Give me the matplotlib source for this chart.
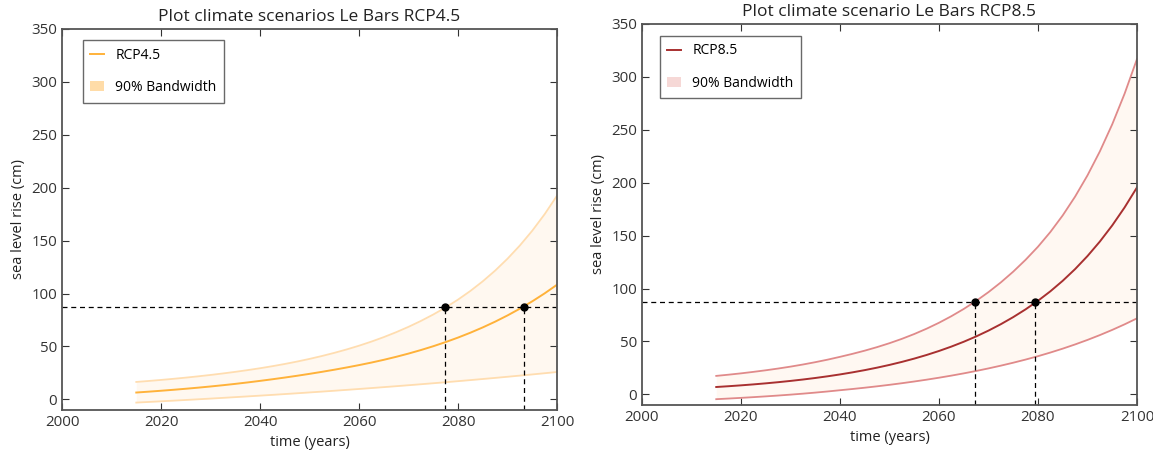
import numpy as np
import matplotlib
matplotlib.use("Agg")
import matplotlib.pyplot as plt
from matplotlib.patches import Patch

plt.rcParams['font.family'] = ['Open Sans', 'DejaVu Sans']

years = np.arange(2015, 2100.1, 2.5)

# RCP4.5 sea level rise (cm)
rcp45_mid = [6.5, 7.32, 8.18, 9.09, 10.07, 11.11, 12.22, 13.41, 14.68, 16.05,
             17.51, 19.04, 20.65, 22.35, 24.15, 26.05, 28.05, 30.17, 32.41, 34.81,
             37.41, 40.24, 43.31, 46.64, 50.25, 54.17, 58.42, 63.03, 68.03, 73.46,
             79.35, 85.74, 92.67, 100.19, 108.35]
rcp45_high = [16.5, 17.42, 18.4, 19.45, 20.58, 21.8, 23.11, 24.52, 26.04, 27.68,
              29.45, 31.38, 33.48, 35.77, 38.27, 41.0, 43.97, 47.21, 50.74, 54.61,
              58.85, 63.49, 68.57, 74.13, 80.22, 86.89, 94.29, 102.49, 111.59, 121.69,
              132.94, 145.44, 159.39, 174.99, 192.49]
rcp45_low = [-3, -2.4, -1.79, -1.17, -0.53, 0.12, 0.78, 1.46, 2.15, 2.85,
             3.57, 4.3, 5.05, 5.81, 6.59, 7.38, 8.19, 9.02, 9.86, 10.72,
             11.6, 12.49, 13.4, 14.33, 15.28, 16.25, 17.24, 18.25, 19.28, 20.33,
             21.4, 22.49, 23.6, 24.74, 25.9]

# RCP8.5 sea level rise (cm)
rcp85_mid = [7.0, 7.75, 8.57, 9.47, 10.46, 11.55, 12.75, 14.07, 15.52, 17.12,
             18.88, 20.82, 22.95, 25.3, 27.88, 30.72, 33.84, 37.27, 41.04, 45.19,
             49.75, 54.77, 60.29, 66.36, 73.04, 80.39, 88.47, 97.42, 107.37, 118.42,
             130.72, 144.42, 159.67, 176.67, 195.57]
rcp85_high = [17.5, 18.65, 19.9, 21.3, 22.8, 24.45, 26.25, 28.25, 30.45, 32.85,
              35.5, 38.3, 41.35, 44.7, 48.4, 52.5, 57.05, 62.1, 67.7, 73.9,
              80.75, 88.3, 96.65, 105.85, 116.0, 127.2, 139.55, 153.45, 169.15, 186.9,
              206.95, 229.6, 255.2, 284.15, 316.85]
rcp85_low = [-4.5, -3.9, -3.26, -2.58, -1.85, -1.06, -0.21, 0.71, 1.71, 2.79,
             3.96, 5.11, 6.34, 7.66, 9.07, 10.58, 12.2, 13.93, 15.78, 17.76,
             19.88, 22.15, 24.58, 27.18, 29.96, 32.93, 36.11, 39.56, 43.26, 47.23,
             51.49, 56.06, 60.96, 66.22, 71.86]

# threshold level and the years where the curves cross it
threshold = 87.4
rcp45_cross = [2077.3, 2093.4]
rcp85_cross = [2067.2, 2079.4]


def draw_panel(ax, title, label, mid, high, low, cross, line_col, band_col, fill_col, patch_col, leg_pos):
    ax.fill_between(years, low, high, color=fill_col, linewidth=0)
    ax.plot(years, high, color=band_col, linewidth=1.3)
    ax.plot(years, low, color=band_col, linewidth=1.3)
    ax.plot(years, mid, color=line_col, linewidth=1.4)

    ax.axhline(threshold, color='black', linestyle='--', linewidth=0.9, dashes=(4, 3))
    for c in cross:
        ax.plot([c, c], [-10, threshold], color='black', linestyle='--', linewidth=0.9, dashes=(4, 3))
    ax.plot(cross, [threshold] * len(cross), 'o', color='black', markersize=5)

    ax.set_xlim(2000, 2100)
    ax.set_ylim(-10, 350)
    ax.set_xticks(range(2000, 2101, 20))
    ax.set_yticks(range(0, 351, 50))
    ax.tick_params(direction='in', top=True, right=True, labelsize=10.8, colors='#333333', length=5)
    for s in ax.spines.values():
        s.set_color('#555555')
        s.set_linewidth(1.3)
    ax.set_title(title, fontsize=12.5, color='#222222')
    ax.set_xlabel('time (years)', fontsize=10.5, color='#222222')
    ax.set_ylabel('sea level rise (cm)', fontsize=10.5, color='#222222')

    handles = [plt.Line2D([], [], color=line_col, linewidth=1.4),
               Patch(facecolor=patch_col, edgecolor='none')]
    leg = ax.legend(handles, [label, '90% Bandwidth'], loc='upper left',
                    bbox_to_anchor=leg_pos, fancybox=False, fontsize=10,
                    handlelength=1.0, borderpad=0.55, labelspacing=1.25,
                    handletextpad=0.8, borderaxespad=0.0)
    leg.get_frame().set_edgecolor('#444444')
    leg.get_frame().set_linewidth(1.0)


fig = plt.figure(figsize=(11.53, 4.5), dpi=100)
ax1 = fig.add_axes([0.0538, 0.0889, 0.4293, 0.8467])
ax2 = fig.add_axes([0.5568, 0.1, 0.4293, 0.8467])

draw_panel(ax1, 'Plot climate scenarios Le Bars RCP4.5', 'RCP4.5',
           rcp45_mid, rcp45_high, rcp45_low, rcp45_cross,
           '#FFB23A', '#FFDDB0', '#FFF8F0', '#FFDCA8', (0.042, 0.971))
draw_panel(ax2, 'Plot climate scenario Le Bars RCP8.5', 'RCP8.5',
           rcp85_mid, rcp85_high, rcp85_low, rcp85_cross,
           '#A83030', '#E08A8A', '#FFF8F2', '#F6D8D6', (0.036, 0.969))

fig.savefig('out.png', dpi=100)
